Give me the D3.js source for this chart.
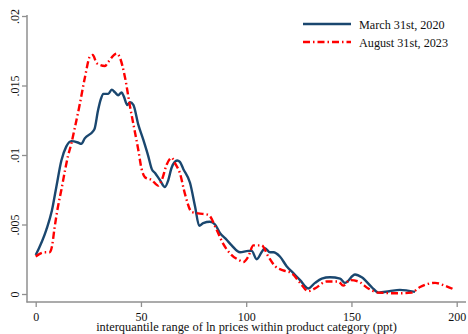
<!DOCTYPE html>
<html>
<head>
<meta charset="utf-8">
<script src="https://cdn.jsdelivr.net/npm/d3@7"></script>
<style>
  html, body { margin: 0; padding: 0; background: #fff; }
  svg { display: block; }
  text { font-family: "Liberation Serif", "Times New Roman", serif; fill: #111; }
</style>
</head>
<body>
<svg id="chart" width="468" height="334"></svg>
<script>
// ---- data ----
const seriesNames = ["March 31st, 2020", "August 31st, 2023"];
const marchX = [0, 5, 7.7, 9.8, 12.2, 14.5, 16.9, 20, 21.7, 23.3, 27.2, 28, 29.6, 30.9, 32.1, 34.5, 36.1, 37.7, 39.2, 40.8, 41.9, 43.5, 44.8, 46.4, 48.7, 51.1, 53.5, 55.1, 56.7, 59, 61.4, 63, 64.6, 67.2, 68.5, 70.1, 73.3, 75.7, 77.7, 79.6, 82.8, 85.2, 87.5, 90.7, 93.1, 97.1, 101, 102.6, 105, 107.3, 108.9, 111.3, 112.9, 116, 119.2, 122.4, 125.6, 129.5, 132.7, 135.9, 139.8, 144.6, 146.9, 151.7, 154.9, 159.6, 162.8, 168, 173, 180.2];
const marchY = [0.0028, 0.0046, 0.006, 0.0077, 0.0096, 0.0106, 0.011, 0.0109, 0.0108, 0.0112, 0.0117, 0.0119, 0.0132, 0.014, 0.0144, 0.0144, 0.0147, 0.0145, 0.0143, 0.0145, 0.0142, 0.0136, 0.0138, 0.0136, 0.0122, 0.0111, 0.0099, 0.009, 0.0087, 0.0082, 0.0077, 0.0082, 0.0091, 0.0096, 0.0095, 0.009, 0.008, 0.0063, 0.0049, 0.0051, 0.0052, 0.005, 0.0044, 0.0039, 0.0035, 0.003, 0.0031, 0.0031, 0.0025, 0.003, 0.0033, 0.003, 0.003, 0.0027, 0.002, 0.0015, 0.001, 0.0004, 0.0008, 0.0011, 0.0012, 0.0011, 0.0008, 0.0014, 0.0012, 0.0005, 0.0001, 0.0002, 0.0003, 0.00015];
const augustX = [0, 4.3, 6.6, 7.7, 9, 10.6, 12.2, 13.8, 15.3, 16.9, 18.5, 21, 23.4, 25.8, 27.1, 29, 32.9, 34.5, 38.5, 40, 42.4, 44.8, 47.2, 48.7, 50.3, 51.9, 55.1, 58.2, 59.9, 62.2, 64.6, 66.2, 68.5, 70.9, 74.1, 77.2, 82, 86, 89.1, 93.1, 97.1, 98.6, 101, 103.4, 107.3, 110.5, 113.7, 117.6, 121.6, 125.6, 129.5, 132.7, 138.2, 143.7, 146.1, 149.3, 153.3, 158, 162.8, 173, 178.6, 182.6, 189.7, 194.4, 199.1];
const augustY = [0.0027, 0.003, 0.003, 0.0034, 0.0048, 0.0063, 0.0075, 0.0088, 0.0099, 0.0108, 0.0119, 0.0137, 0.0156, 0.0171, 0.0172, 0.0166, 0.0164, 0.0167, 0.0173, 0.017, 0.0156, 0.0135, 0.0116, 0.0104, 0.009, 0.0084, 0.0082, 0.0078, 0.0082, 0.0093, 0.0098, 0.0094, 0.0087, 0.0072, 0.0059, 0.0058, 0.0057, 0.0046, 0.0036, 0.0028, 0.0024, 0.0023, 0.0027, 0.0035, 0.0035, 0.0027, 0.002, 0.0017, 0.0015, 0.0008, 0.0002, 0.0004, 0.0009, 0.0009, 0.0006, 0.001, 0.0009, 0.0004, 0.0001, 0.00005, 0.0001, 0.0005, 0.0008, 0.0006, 0.0003];
const xTicks = [0, 50, 100, 150, 200];
const yTicks = [0, 0.005, 0.01, 0.015, 0.02];
const yTickLabels = ["0", ".005", ".01", ".015", ".02"];
const xTitle = "interquantile range of ln prices within product category (ppt)";

// ---- layout ----
const svg = d3.select("#chart");
const x = d3.scaleLinear().domain([0, 200]).range([35.7, 456.7]);
const y = d3.scaleLinear().domain([0, 0.02]).range([294, 16]);
const axisColor = "#8f8f8f";
const blue = "#1a476f";
const red = "#ff0000";
const dashPattern = "7,3,1.5,3";
const fontFam = "Liberation Serif, serif";

// y axis
const yAxis = svg.append("g").attr("transform", "translate(27,0)")
  .call(d3.axisLeft(y).tickValues(yTicks).tickSize(5).tickFormat((d, i) => yTickLabels[i]));
yAxis.select(".domain").remove();
yAxis.selectAll(".tick line").attr("stroke", axisColor).attr("stroke-width", 1.3);
yAxis.selectAll(".tick text")
  .attr("transform", "rotate(-90)")
  .attr("x", 0).attr("y", -8)
  .attr("dy", 0)
  .attr("text-anchor", "middle")
  .style("font-family", fontFam)
  .style("font-size", "12px")
  .attr("fill", "#111");
svg.append("line").attr("x1", 27).attr("x2", 27).attr("y1", 15).attr("y2", 302.5)
  .attr("stroke", axisColor).attr("stroke-width", 1.5);

// x axis
const xAxis = svg.append("g").attr("transform", "translate(0,302)")
  .call(d3.axisBottom(x).tickValues(xTicks).tickSize(5).tickFormat(d3.format("d")));
xAxis.select(".domain").remove();
xAxis.selectAll(".tick line").attr("stroke", axisColor).attr("stroke-width", 1.3);
xAxis.selectAll(".tick text")
  .attr("y", 10).attr("dy", "0.71em")
  .style("font-family", fontFam)
  .style("font-size", "12px")
  .attr("fill", "#111");
svg.append("line").attr("x1", 26.5).attr("x2", 466).attr("y1", 302).attr("y2", 302)
  .attr("stroke", axisColor).attr("stroke-width", 1.5);

svg.append("text").attr("x", 246.5).attr("y", 330.5).attr("text-anchor", "middle")
  .style("font-family", fontFam).style("font-size", "12.4px").text(xTitle);

// lines
const line = d3.line().x(d => x(d[0])).y(d => y(d[1])).curve(d3.curveMonotoneX);
const marchData = marchX.map((v, i) => [v, marchY[i]]);
const augustData = augustX.map((v, i) => [v, augustY[i]]);

svg.append("path").datum(marchData).attr("d", line)
  .attr("fill", "none").attr("stroke", blue).attr("stroke-width", 2.4)
  .attr("stroke-linejoin", "round");
svg.append("path").datum(augustData).attr("d", line)
  .attr("fill", "none").attr("stroke", red).attr("stroke-width", 2.4)
  .attr("stroke-dasharray", dashPattern);

// legend
const legend = svg.append("g");
const legendItems = [
  { name: seriesNames[0], color: blue, dash: null, y: 24 },
  { name: seriesNames[1], color: red, dash: dashPattern, y: 42 }
];
legendItems.forEach(it => {
  legend.append("line").attr("x1", 303).attr("x2", 351).attr("y1", it.y).attr("y2", it.y)
    .attr("stroke", it.color).attr("stroke-width", 2.4)
    .attr("stroke-dasharray", it.dash);
  legend.append("text").attr("x", 359).attr("y", it.y + 4.5)
    .style("font-family", fontFam).style("font-size", "12.2px").text(it.name);
});
</script>
</body>
</html>
